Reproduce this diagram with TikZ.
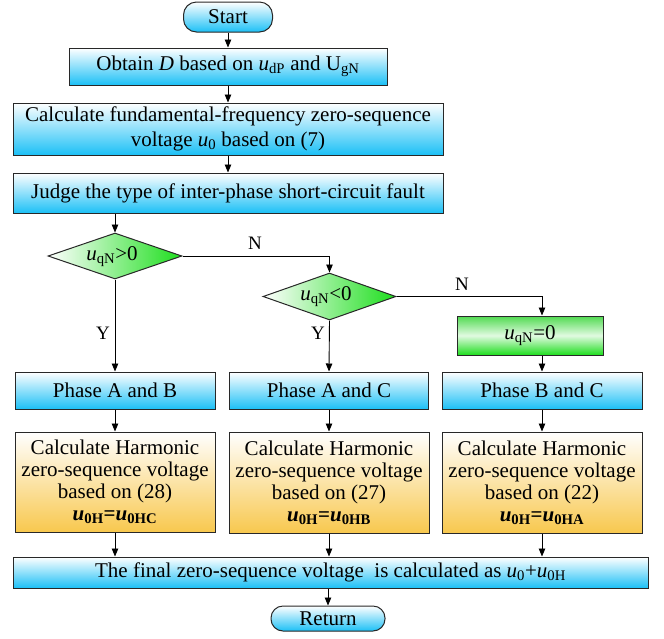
\documentclass[tikz,border=0pt]{standalone}
\usepackage{fontspec}
\setmainfont{Liberation Serif}
\usetikzlibrary{shapes.geometric,arrows.meta}
\definecolor{cyanb}{RGB}{28,192,246}
\definecolor{greenb}{RGB}{30,222,30}
\definecolor{greenm}{RGB}{80,218,80}
\definecolor{greenl}{RGB}{225,250,225}
\definecolor{orangeb}{RGB}{248,200,78}
\definecolor{edge}{RGB}{40,40,40}
\newcommand{\uu}{\textit{u}}
\begin{document}
\begin{tikzpicture}[x=1pt,y=-1pt,
  every node/.style={font=\fontsize{21}{24}\selectfont, inner sep=0pt, align=center},
  bluebox/.style={draw=edge, line width=1pt, top color=white, bottom color=cyanb, shading angle=0},
  pill/.style={bluebox, rounded corners=13pt},
  dia/.style={diamond, draw=edge, line width=1pt, left color=white, right color=greenb, minimum width=134pt, minimum height=46pt},
  gbox/.style={draw=edge, line width=1pt, top color=greenm, bottom color=greenb, middle color=greenl},
  obox/.style={draw=edge, line width=1pt, top color=white, bottom color=orangeb, font=\fontsize{21}{22}\selectfont},
  arr/.style={draw=black, line width=0.9pt, -{Triangle[length=8pt,width=6.5pt]}},
  lab/.style={font=\fontsize{19}{22}\selectfont}
]
\useasboundingbox (0,0) rectangle (664,638);

\node[pill, minimum width=89pt, minimum height=30pt] (start) at (228,17) {Start};
\node[bluebox, minimum width=318pt, minimum height=37pt] (b1) at (228,66.5)
  {Obtain \textit{D} based on \uu\textsubscript{dP} and U\textsubscript{gN}};
\node[bluebox, minimum width=430pt, minimum height=52pt, font=\fontsize{21}{24.5}\selectfont] (b2) at (228,129)
  {Calculate fundamental-frequency zero-sequence\\voltage \uu\textsubscript{0} based on (7)};
\node[bluebox, minimum width=430pt, minimum height=40pt] (b3) at (228,193)
  {Judge the type of inter-phase short-circuit fault};

\node[dia] (d1) at (115,256) {};
\node (d1t) at (112,257) {\uu\textsubscript{qN}>0};
\node[dia, minimum width=133pt, minimum height=47pt] (d2) at (329.5,296.5) {};
\node (d2t) at (326,297) {\uu\textsubscript{qN}<0};
\node[gbox, minimum width=146pt, minimum height=39pt] (z) at (530,335.5) {\uu\textsubscript{qN}=0};

\node[bluebox, minimum width=200pt, minimum height=37pt] (p1) at (115,390.5) {Phase A and B};
\node[bluebox, minimum width=199pt, minimum height=37pt] (p2) at (329,390.5) {Phase A and C};
\node[bluebox, minimum width=200pt, minimum height=37pt] (p3) at (542,390.5) {Phase B and C};

\node[obox, minimum width=200pt, minimum height=100pt] (c1) at (115,482)
  {Calculate Harmonic\\zero-sequence voltage\\based on (28)\\\textbf{\uu\textsubscript{0H}=\uu\textsubscript{0HC}}};
\node[obox, minimum width=200pt, minimum height=101pt] (c2) at (329,482.5)
  {Calculate Harmonic\\zero-sequence voltage\\based on (27)\\\textbf{\uu\textsubscript{0H}=\uu\textsubscript{0HB}}};
\node[obox, minimum width=200pt, minimum height=101pt] (c3) at (542,482.5)
  {Calculate Harmonic\\zero-sequence voltage\\based on (22)\\\textbf{\uu\textsubscript{0H}=\uu\textsubscript{0HA}}};

\node[bluebox, minimum width=635pt, minimum height=31pt] (f) at (330.5,572.5)
  {The final zero-sequence voltage\ \ is calculated as \uu\textsubscript{0}+\uu\textsubscript{0H}};
\node[pill, minimum width=114pt, minimum height=25pt, rounded corners=12pt] (r) at (328,618.5) {Return};

\draw[arr] (start) -- (b1);
\draw[arr] (b1) -- (b2);
\draw[arr] (b2) -- (b3);
\draw[arr] (b3.south -| d1.north) -- (d1.north);
\draw[arr] (d1.east) -| (d2.north);
\draw[arr] (d2.east) -| (z.north -| p3.north);
\draw[arr] (d1.south) -- (p1.north);
\draw[arr] (d2.south) -- (p2.north);
\draw[arr] (z.south -| p3.north) -- (p3.north);
\draw[arr] (p1) -- (c1);
\draw[arr] (p2) -- (c2);
\draw[arr] (p3) -- (c3);
\draw[arr] (c1.south) -- (c1.south |- f.north);
\draw[arr] (c2.south) -- (c2.south |- f.north);
\draw[arr] (c3.south) -- (c3.south |- f.north);
\draw[arr] (r.north |- f.south) -- (r.north);

\node[lab] (n1) at (255,243) {N};
\node[lab] (n2) at (462,284) {N};
\node[lab] (y1) at (103,333) {Y};
\node[lab] (y2) at (318,333) {Y};
\end{tikzpicture}
\end{document}
